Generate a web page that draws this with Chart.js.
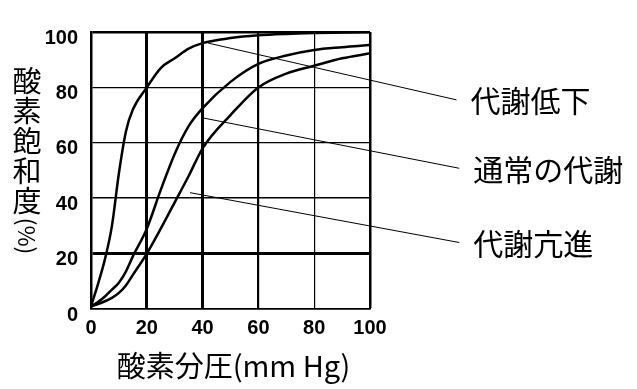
<!DOCTYPE html>
<html>
<head>
<meta charset="utf-8">
<script src="https://cdn.jsdelivr.net/npm/chart.js@4.4.1/dist/chart.umd.min.js"></script>
<style>
  html, body { margin: 0; padding: 0; background: #fff; }
  #wrap { width: 637px; height: 389px; }
</style>
</head>
<body>
<div id="wrap"><canvas id="chart"></canvas></div>
<script>
// oxygen partial pressure (mm Hg) and saturation (%)
const pO2 = [0, 2.5, 5, 7.5, 10, 12.5, 15, 20, 25, 30, 35, 40, 50, 60, 70, 80, 90, 100];
const satLow    = [1, 9, 18, 30, 49, 64, 72, 80, 87, 90.5, 94, 96, 97.8, 98.8, 99.3, 99.6, 99.8, 100];   // 代謝低下
const satNormal = [1, 2.5, 4.5, 7, 9.5, 13.5, 19, 29, 43, 56, 66, 72.5, 82, 88.5, 91.5, 93.5, 94.5, 95.3]; // 通常の代謝
const satHigh   = [1, 1.8, 2.8, 4, 5.8, 8.5, 12.3, 20, 29, 38.5, 48, 58, 70, 80, 85, 87.8, 90.5, 92.3]; // 代謝亢進

const xTicks = [0, 20, 40, 60, 80, 100];
const yTicks = [0, 20, 40, 60, 80, 100];

const curveNames = ['代謝低下', '通常の代謝', '代謝亢進'];
// leader lines: from a point on the curve out to the label (axis units)
const leaderFrom = [[42, 96], [40, 69], [35.5, 42]];
const leaderTo   = [[131, 75.5], [132, 50.8], [132, 24]];

const xTitle = '酸素分圧(mm Hg)';
const yTitle = '酸素飽和度';
const yUnit = '(%)';

const jpFont = '"Noto Sans CJK JP", "Noto Sans", sans-serif';

const toPoints = (xs, ys) => xs.map((x, i) => ({ x: x, y: ys[i] }));

const curve = (data) => ({
  type: 'line',
  data: toPoints(pO2, data),
  borderColor: '#000',
  borderWidth: 2.5,
  pointRadius: 0,
  cubicInterpolationMode: 'monotone',
  fill: false,
});

const leader = (i) => ({
  type: 'line',
  data: [
    { x: leaderFrom[i][0], y: leaderFrom[i][1] },
    { x: leaderTo[i][0], y: leaderTo[i][1] },
  ],
  borderColor: '#000',
  borderWidth: 1,
  pointRadius: 0,
  clip: false,
});

const xGridWidth = { 0: 2, 20: 3, 40: 3, 60: 2.2, 80: 1.2, 100: 2.5 };
const yGridWidth = { 0: 1.5, 20: 3, 40: 1.6, 60: 1.3, 80: 1.3, 100: 2.5 };

// texts around the plot: curve labels and axis titles
const textPlugin = {
  id: 'texts',
  afterDatasetsDraw(chart) {
    const { ctx, scales: { x, y }, chartArea } = chart;
    ctx.save();
    ctx.fillStyle = '#000';
    ctx.textBaseline = 'middle';

    ctx.font = '30px ' + jpFont;
    ctx.textAlign = 'left';
    curveNames.forEach((name, i) => {
      const px = x.getPixelForValue(leaderTo[i][0]) + 14;
      const py = y.getPixelForValue(leaderTo[i][1]) + 1;
      ctx.fillText(name, px, py);
    });

    ctx.font = '29px ' + jpFont;
    ctx.textAlign = 'center';
    ctx.fillText(xTitle, (chartArea.left + chartArea.right) / 2 + 3, 366);

    ctx.font = '29px ' + jpFont;
    [...yTitle].forEach((ch, i) => ctx.fillText(ch, 27, 81 + i * 30));
    ctx.translate(27, 236);
    ctx.rotate(Math.PI / 2);
    ctx.font = '23px ' + jpFont;
    ctx.fillText(yUnit, 0, 0);
    ctx.restore();
  },
};

new Chart(document.getElementById('chart'), {
  type: 'line',
  data: {
    datasets: [
      curve(satLow),
      curve(satNormal),
      curve(satHigh),
      leader(0),
      leader(1),
      leader(2),
    ],
  },
  options: {
    responsive: true,
    maintainAspectRatio: false,
    animation: false,
    layout: { padding: { top: 32, right: 267, left: 0, bottom: 0 } },
    plugins: { legend: { display: false }, tooltip: { enabled: false } },
    scales: {
      x: {
        type: 'linear',
        min: 0,
        max: 100,
        afterBuildTicks: (s) => { s.ticks = xTicks.map((v) => ({ value: v })); },
        afterFit: (s) => { s.height = 80; },
        grid: {
          color: '#000',
          drawTicks: false,
          lineWidth: (c) => xGridWidth[c.tick ? c.tick.value : 0] || 1,
        },
        border: { display: true, color: '#000', width: 1.5 },
        ticks: {
          color: '#000',
          padding: 7,
          maxRotation: 0,
          font: { family: '"Liberation Sans", Arial, sans-serif', size: 20, weight: 'bold' },
        },
      },
      y: {
        type: 'linear',
        min: 0,
        max: 100,
        afterBuildTicks: (s) => { s.ticks = yTicks.map((v) => ({ value: v })); },
        afterFit: (s) => { s.width = 91; },
        grid: {
          color: '#000',
          drawTicks: false,
          lineWidth: (c) => yGridWidth[c.tick ? c.tick.value : 0] || 1,
        },
        border: { display: true, color: '#000', width: 2.5 },
        ticks: {
          color: '#000',
          padding: 13,
          labelOffset: 6,
          font: { family: '"Liberation Sans", Arial, sans-serif', size: 20, weight: 'bold' },
        },
      },
    },
  },
  plugins: [textPlugin],
});
</script>
</body>
</html>
